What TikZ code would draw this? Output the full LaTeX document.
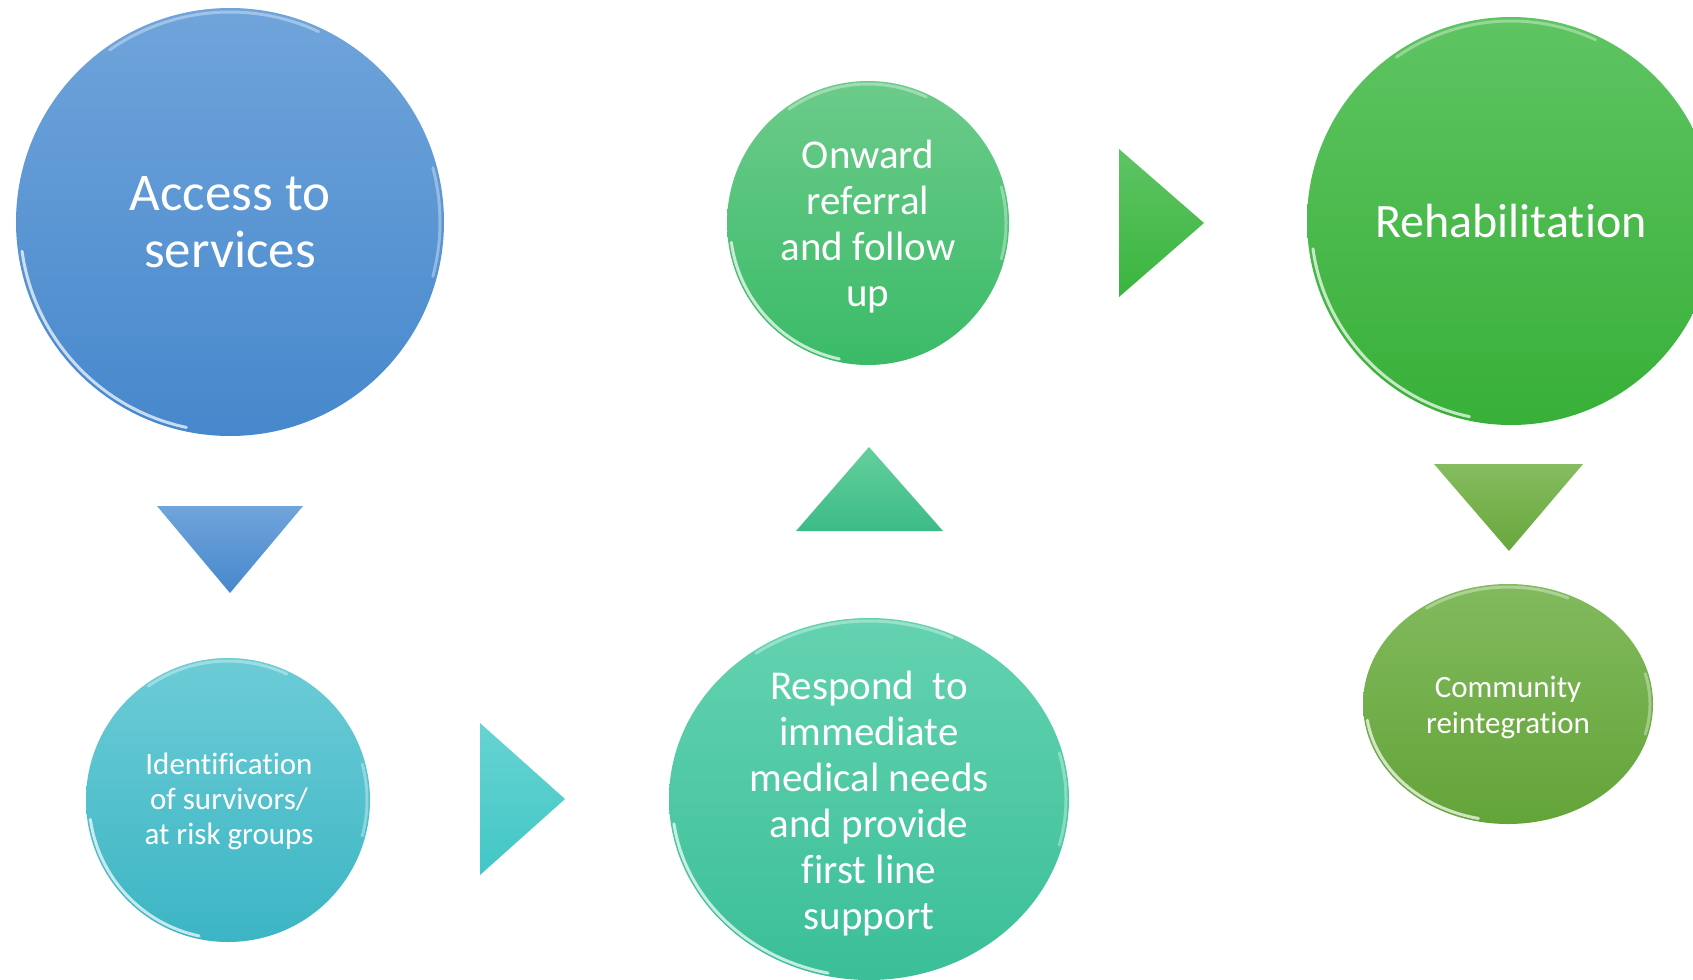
\documentclass[tikz,border=0pt]{standalone}
\usepackage{fontspec}
\setmainfont{Carlito}[Ligatures={NoCommon,NoContextual,NoRare},Contextuals=NoAlternate]
\usetikzlibrary{shapes.geometric,calc}
\definecolor{accT}{RGB}{112,164,219}
\definecolor{accB}{RGB}{70,136,204}
\definecolor{idT}{RGB}{108,204,214}
\definecolor{idB}{RGB}{60,181,196}
\definecolor{tealT}{RGB}{102,212,210}
\definecolor{tealB}{RGB}{66,198,198}
\definecolor{resT}{RGB}{100,210,176}
\definecolor{resB}{RGB}{58,191,152}
\definecolor{upT}{RGB}{100,208,156}
\definecolor{upB}{RGB}{60,187,136}
\definecolor{onT}{RGB}{108,203,138}
\definecolor{onB}{RGB}{58,187,104}
\definecolor{grT}{RGB}{94,196,100}
\definecolor{grB}{RGB}{58,181,62}
\definecolor{rehT}{RGB}{94,196,98}
\definecolor{rehB}{RGB}{56,176,56}
\definecolor{olT}{RGB}{134,188,96}
\definecolor{olB}{RGB}{104,167,60}
\definecolor{comT}{RGB}{130,186,94}
\definecolor{comB}{RGB}{99,164,56}
\begin{document}
\begin{tikzpicture}[x=1pt,y=-1pt,
  bub/.style={ellipse, inner sep=0pt, draw=none},
  rim/.style={draw=white, line width=3pt, opacity=0.7, line cap=round},
  rimtop/.style={draw=white, line width=3pt, opacity=0.35, line cap=round},
  lbl/.style={text=white, align=center, inner sep=0pt}
]
\useasboundingbox (0,0) rectangle (1693,979);
\clip (0,0) rectangle (1693,979);
\fill[white] (0,0) rectangle (1693,979);

% bubbles
\node[bub, minimum width=428, minimum height=428, top color=accT, bottom color=accB] (access) at (230,222) {};
\node[bub, minimum width=284, minimum height=284, top color=idT, bottom color=idB] (ident) at (228,800) {};
\node[bub, minimum width=400, minimum height=362, top color=resT, bottom color=resB] (respond) at (869,799) {};
\node[bub, minimum width=282, minimum height=284, top color=onT, bottom color=onB] (onward) at (868,223) {};
\node[bub, minimum width=408, minimum height=408, top color=rehT, bottom color=rehB] (rehab) at (1511,221) {};
\node[bub, minimum width=290, minimum height=240, top color=comT, bottom color=comB] (community) at (1508,704) {};

% glossy rims
\foreach \n/\rx/\ry in {access/210/210, ident/139/139, respond/197/178, onward/138/139, rehab/200/200, community/142/117}{
  \draw[rim] (\n.center) ++(188:\rx pt and \ry pt) arc[start angle=188, end angle=258, x radius=\rx pt, y radius=\ry pt];
  \draw[rimtop] (\n.center) ++(65:\rx pt and \ry pt) arc[start angle=65, end angle=125, x radius=\rx pt, y radius=\ry pt];
  \draw[rimtop] (\n.center) ++(-15:\rx pt and \ry pt) arc[start angle=-15, end angle=15, x radius=\rx pt, y radius=\ry pt];
}

% arrow triangles
\path[top color=accT, bottom color=accB] (157,506) -- (303,506) -- (230,593) -- cycle;
\path[top color=tealT, bottom color=tealB] (480,723) -- (565,799) -- (480,875) -- cycle;
\path[top color=upT, bottom color=upB] (869,447) -- (943,531) -- (796,531) -- cycle;
\path[top color=grT, bottom color=grB] (1119,149) -- (1204,223) -- (1119,297) -- cycle;
\path[top color=olT, bottom color=olB] (1434,464) -- (1583,464) -- (1509,551) -- cycle;

% labels
\node[lbl, font=\fontsize{53}{57}\selectfont] (accessT) at (230,222) {Access to\\services};
\node[lbl, font=\fontsize{31}{35}\selectfont] (identT) at (229,801) {Identification\\of survivors/\\at risk groups};
\node[lbl, font=\fontsize{41}{46}\selectfont] (respondT) at (869,804) {Respond\ \ to\\immediate\\medical needs\\and provide\\first line\\support};
\node[lbl, font=\fontsize{41}{46}\selectfont] (onwardT) at (868,227) {Onward\\referral\\and follow\\up};
\node[lbl, font=\fontsize{48}{52}\selectfont] (rehabT) at (1511,221) {Rehabilitation};
\node[lbl, font=\fontsize{31}{36}\selectfont] (communityT) at (1508,707) {Community\\reintegration};
\end{tikzpicture}
\end{document}
